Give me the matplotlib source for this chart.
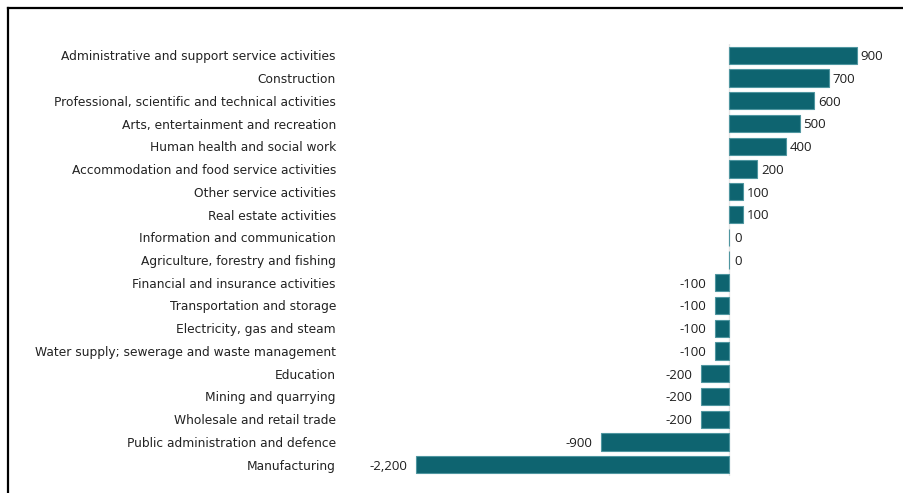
import matplotlib
matplotlib.use("Agg")
import matplotlib.pyplot as plt
from matplotlib.lines import Line2D

# Sectors, top to bottom, and the change in each
sectors = [
    "Administrative and support service activities",
    "Construction",
    "Professional, scientific and technical activities",
    "Arts, entertainment and recreation",
    "Human health and social work",
    "Accommodation and food service activities",
    "Other service activities",
    "Real estate activities",
    "Information and communication",
    "Agriculture, forestry and fishing",
    "Financial and insurance activities",
    "Transportation and storage",
    "Electricity, gas and steam",
    "Water supply; sewerage and waste management",
    "Education",
    "Mining and quarrying",
    "Wholesale and retail trade",
    "Public administration and defence",
    "Manufacturing",
]
changes = [900, 700, 600, 500, 400, 200, 100, 100, 0, 0,
           -100, -100, -100, -100, -200, -200, -200, -900, -2200]

bar_col = "#0e6470"
edge_col = "#4f96a0"

W, H = 904, 493
fig = plt.figure(figsize=(W / 100, H / 100), dpi=100)

# axes placed in pixel terms: zero at x=729, 900 at x=857
px_per_unit = (857 - 729) / 900
ax_l, ax_r = 345, 890
ax_top, ax_bot = 44, 476
ax = fig.add_axes([ax_l / W, 1 - ax_bot / H, (ax_r - ax_l) / W, (ax_bot - ax_top) / H])

ypos = list(range(len(sectors)))
ax.barh(ypos, changes, height=0.76, color=bar_col, edgecolor=edge_col, linewidth=0.8, zorder=3)
ax.axvline(0, color="#e6e6e6", linewidth=1.0, zorder=1)

ax.set_xlim((ax_l - 729) / px_per_unit, (ax_r - 729) / px_per_unit)
ax.set_ylim(len(sectors) - 0.5, -0.5)

ax.set_yticks(ypos)
ax.set_yticklabels(sectors, fontsize=8.8, color="#222222")
ax.tick_params(axis="y", length=0, pad=6.5)
ax.set_xticks([])
for s in ax.spines.values():
    s.set_visible(False)

for y, v in zip(ypos, changes):
    txt = f"{v:,}"
    if v > 0:
        dx, ha = 2.5, "left"
    elif v == 0:
        dx, ha = 4, "left"
    else:
        dx, ha = -6, "right"
    ax.annotate(txt, (v, y), xytext=(dx, -1), textcoords="offset points",
                ha=ha, va="center", fontsize=9.5, family="Open Sans", color="#1e1e1e")

# frame lines on the top and left edges
fig.add_artist(Line2D([8 / W, 8 / W], [0, 1 - 8 / H], color="black", linewidth=1.6, transform=fig.transFigure))
fig.add_artist(Line2D([8 / W, 1], [1 - 8 / H, 1 - 8 / H], color="black", linewidth=1.6, transform=fig.transFigure))

fig.savefig("out.png", dpi=100)
